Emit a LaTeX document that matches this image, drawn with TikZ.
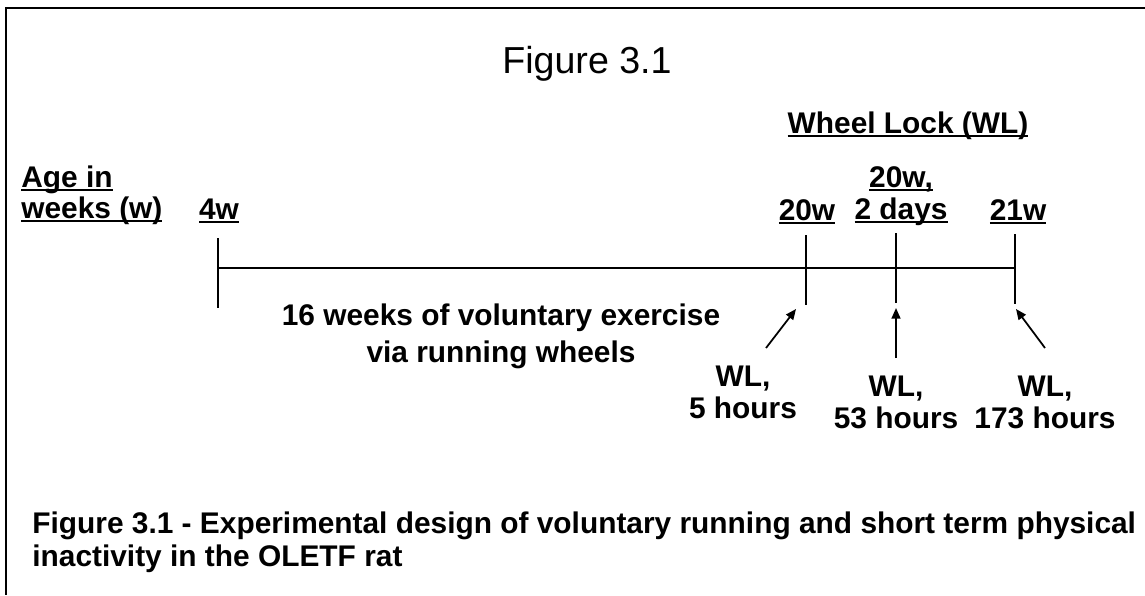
\documentclass[tikz,border=0pt]{standalone}
\usepackage{fontspec}
\setmainfont{Liberation Sans}
\usetikzlibrary{arrows.meta}

% underline that runs through the descenders, as in the original
\newcommand\ulbox[1]{\leavevmode\setbox0\hbox{#1}\rlap{\rule[-0.14em]{\wd0}{0.08em}}\box0}

\begin{document}
\begin{tikzpicture}[x=0.02cm,y=-0.02cm,
  lbl/.style={font=\bfseries\fontsize{17}{18.2}\selectfont,inner sep=0pt},
  tick/.style={line width=1.1pt},
  pointer/.style={line width=1pt,-{Triangle[length=6pt,width=5pt]}}]

\useasboundingbox (0,0) rectangle (1145,595);

% Frame (top and left edges)
\draw[line width=1.1pt] (1145,8) -- (6,8) -- (6,595);

% Title
\node[font=\fontsize{21.4}{24}\selectfont,inner sep=0pt,anchor=base] (title) at (587,73) {Figure 3.1};

% Headings (multi-line nodes sit on the baseline of their last line)
\node[lbl,anchor=base] (wheellock) at (908,133) {\ulbox{Wheel Lock (WL)}};
\node[lbl,anchor=base west,align=left,font=\bfseries\fontsize{17}{17.6}\selectfont] (age) at (21,218)
{\ulbox{Age in}\\\ulbox{weeks (w)}};

% Time line and ticks
\draw[tick] (218,268) -- (1015,268);
\foreach \x/\t/\b in {218/238/308, 806/235/305, 896/233/303, 1015/234/304}
  \draw[tick] (\x,\t) -- (\x,\b);

% Ages above the ticks
\node[lbl,anchor=base] (w4) at (219,219) {\ulbox{4w}};
\node[lbl,anchor=base] (w20) at (807,220) {\ulbox{20w}};
\node[lbl,anchor=base,align=center] (d2) at (901,219) {\ulbox{20w,}\\\ulbox{2 days}};
\node[lbl,anchor=base] (w21) at (1018,220) {\ulbox{21w}};

% Exercise period
\node[lbl,anchor=base,align=center,font=\bfseries\fontsize{17}{21}\selectfont] (exercise) at (501,362)
{16 weeks of voluntary exercise\\via running wheels};

% Wheel lock times
\foreach \x/\y/\h/\name in {743/418/5/wlA, 896/428/53/wlB, 1045/428/173/wlC}
  \node[lbl,anchor=base,align=center] (\name) at (\x,\y) {WL,\\\h\ hours};

% Pointers
\coordinate (tailA) at (766,348); \coordinate (tipA) at (796,309);
\coordinate (tailB) at (896,358); \coordinate (tipB) at (896,308);
\coordinate (tailC) at (1045,348); \coordinate (tipC) at (1016,309);
\foreach \n in {A,B,C}
  \draw[pointer] (tail\n) -- (tip\n);

% Caption
\node[lbl,anchor=base west,align=left,font=\bfseries\fontsize{17}{18.7}\selectfont] (caption) at (32,566)
{Figure 3.1 - Experimental design of voluntary running and short term physical\\inactivity in the OLETF rat};

\end{tikzpicture}
\end{document}
